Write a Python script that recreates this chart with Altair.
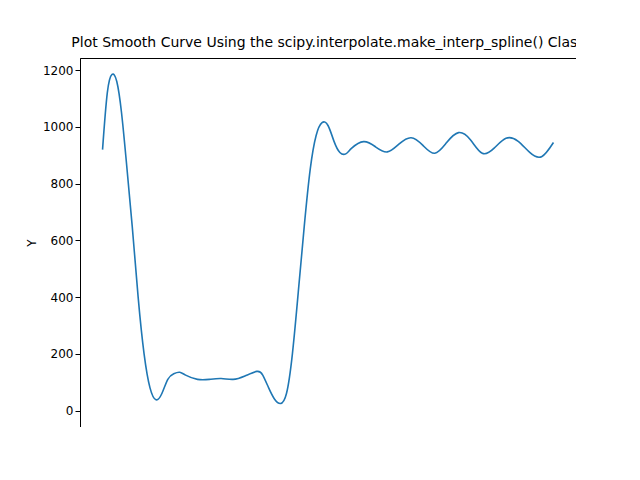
import altair as alt
import pandas as pd

xs = [-10, -9.8, -9.6, -9.4, -9.2, -9, -8.75, -8.5, -8.25, -8, -7.75, -7.5, -7.25, -7,
      -6.75, -6.5, -6, -5.5, -5, -4.5, -4, -3.5, -3.25, -3, -2.75, -2.5, -2.25,
      -2, -1.75, -1.5, -1.25, -1, -0.75, -0.5, -0.25, 0, 0.25, 0.5, 1, 1.5, 2, 2.5, 3,
      3.5, 4, 4.5, 5, 5.5, 6, 6.5, 7, 7.5, 8, 8.5, 9]
ys = [920, 1120, 1185, 1160, 1050, 880, 650, 400, 200, 80, 38, 60, 110, 130,
      135, 125, 110, 110, 113, 110, 122, 138, 125, 80, 40, 25, 60,
      200, 420, 650, 850, 970, 1015, 1005, 950, 910, 905, 925, 948, 930, 912, 940, 962,
      935, 907, 945, 980, 955, 907, 925, 960, 950, 910, 895, 945]

df = pd.DataFrame({"x": xs, "y": ys})

chart = (alt.Chart(df)
         .mark_line(color="#1f77b4", interpolate="natural", strokeWidth=1.6)
         .encode(
             x=alt.X("x:Q", title="X", scale=alt.Scale(domain=[-10.95, 9.95], nice=False, zero=False),
                     axis=alt.Axis(values=[-10, -7.5, -5, -2.5, 0, 2.5, 5, 7.5], format=".1f", grid=False)),
             y=alt.Y("y:Q", title="Y", scale=alt.Scale(domain=[-58, 1243], nice=False),
                     axis=alt.Axis(values=[0, 200, 400, 600, 800, 1000, 1200], format="d", grid=False)),
         )
         .properties(width=496, height=369,
                     autosize=alt.AutoSizeParams(type="none"),
                     padding={"left": 72, "top": 50, "right": 0, "bottom": 0},
                     title=alt.Title("Plot Smooth Curve Using the scipy.interpolate.make_interp_spline() Class",
                                     fontSize=14, fontWeight="normal", font="DejaVu Sans", offset=8))
         .configure_axis(labelFont="DejaVu Sans", titleFont="DejaVu Sans", labelFontSize=12,
                         titleFontSize=12, titleFontWeight="normal", domainColor="black",
                         tickColor="black", labelColor="black")
         .configure_view(stroke="black"))

chart.save("out.html", embed_options={"renderer": "svg", "actions": False})
